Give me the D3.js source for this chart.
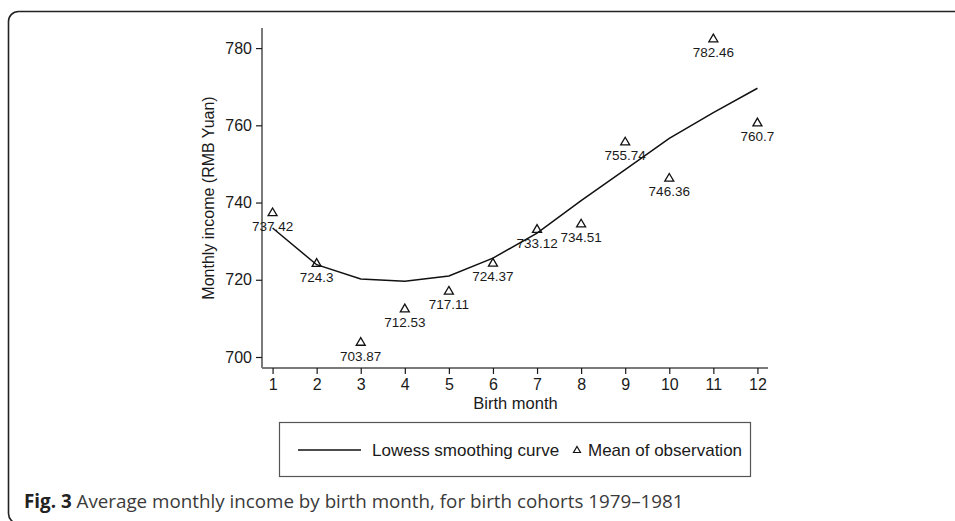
<!DOCTYPE html>
<html><head><meta charset="utf-8">
<script src="https://cdn.jsdelivr.net/npm/d3@7"></script>
<style>
html,body{margin:0;padding:0;background:#fff;}
svg{display:block;}
</style></head>
<body>
<svg id="chart" width="955" height="521"></svg>
<script>
const months = [1,2,3,4,5,6,7,8,9,10,11,12];
const observedMeans = [737.42,724.3,703.87,712.53,717.11,724.37,733.12,734.51,755.74,746.36,782.46,760.7];
const observedLabels = ["737.42","724.3","703.87","712.53","717.11","724.37","733.12","734.51","755.74","746.36","782.46","760.7"];
const lowessCurve = [733.4,723.9,720.2,719.6,721.0,725.6,732.1,740.5,748.5,756.6,763.3,769.6];
const yTicks = [700,720,740,760,780];
const xTicks = [1,2,3,4,5,6,7,8,9,10,11,12];

const svg = d3.select("#chart");
const font = "'Liberation Sans', Arial, Helvetica, sans-serif";
const textColor = "#1a1a1a";
const axisColor = "#7a7a7a";

// outer frame
svg.append("rect").attr("x",8.5).attr("y",11.5).attr("width",1000).attr("height",512)
  .attr("rx",10).attr("ry",10).attr("fill","none").attr("stroke","#222").attr("stroke-width",1.6);

const x = d3.scaleLinear().domain([0.76,12.24]).range([262,768]);
const y = d3.scaleLinear().domain([697.15,785.2]).range([368,28]);

// Y axis
const yAxis = svg.append("g").attr("transform","translate(262,0)")
  .call(d3.axisLeft(y).tickValues(yTicks).tickSize(6).tickPadding(4).tickFormat(d3.format("d")));
yAxis.select(".domain").attr("stroke",axisColor).attr("stroke-width",2).attr("d","M0,28V368");
yAxis.selectAll(".tick line").attr("stroke",textColor).attr("stroke-width",1.2);
yAxis.selectAll(".tick text").attr("font-family",font).attr("font-size",16).attr("fill",textColor);

// X axis
const xAxis = svg.append("g").attr("transform","translate(0,368)")
  .call(d3.axisBottom(x).tickValues(xTicks).tickSize(6).tickPadding(5).tickFormat(d3.format("d")));
xAxis.select(".domain").attr("stroke",axisColor).attr("stroke-width",2).attr("d","M262,0H768");
xAxis.selectAll(".tick line").attr("stroke",textColor).attr("stroke-width",1.2);
xAxis.selectAll(".tick text").attr("font-family",font).attr("font-size",16).attr("fill",textColor);

// axis titles
svg.append("text").attr("x",515.5).attr("y",409).attr("text-anchor","middle")
  .attr("font-family",font).attr("font-size",16.5).attr("fill",textColor).text("Birth month");
svg.append("text").attr("transform","translate(214,198) rotate(-90)").attr("text-anchor","middle")
  .attr("font-family",font).attr("font-size",16).attr("fill",textColor).text("Monthly income (RMB Yuan)");

// lowess line
const line = d3.line().x((d,i)=>x(months[i])).y(d=>y(d));
svg.append("path").datum(lowessCurve).attr("d",line).attr("fill","none")
  .attr("stroke","#111").attr("stroke-width",1.5);

// triangles
const tri = "M0,-4.5L4.5,3.2L-4.5,3.2Z";
svg.selectAll(".pt").data(observedMeans).enter().append("path")
  .attr("d",tri).attr("transform",(d,i)=>`translate(${x(months[i])},${y(d)})`)
  .attr("fill","none").attr("stroke","#111").attr("stroke-width",1.3);
svg.selectAll(".lbl").data(observedMeans).enter().append("text")
  .attr("x",(d,i)=>x(months[i])).attr("y",d=>y(d)+18.5).attr("text-anchor","middle")
  .attr("font-family",font).attr("font-size",13.5).attr("fill",textColor)
  .text((d,i)=>observedLabels[i]);

// legend
svg.append("rect").attr("x",279.5).attr("y",422.5).attr("width",471).attr("height",54)
  .attr("fill","none").attr("stroke","#555").attr("stroke-width",1.2);
svg.append("line").attr("x1",298).attr("x2",361).attr("y1",450).attr("y2",450)
  .attr("stroke","#111").attr("stroke-width",1.5);
svg.append("text").attr("x",372).attr("y",456).attr("font-family",font).attr("font-size",17)
  .attr("fill",textColor).text("Lowess smoothing curve");
svg.append("path").attr("d","M0,-3.5L3.5,2.5L-3.5,2.5Z").attr("transform","translate(577,450)")
  .attr("fill","none").attr("stroke","#111").attr("stroke-width",1.2);
svg.append("text").attr("x",588).attr("y",456).attr("font-family",font).attr("font-size",17)
  .attr("fill",textColor).text("Mean of observation");

// caption
const cap = svg.append("text").attr("x",24).attr("y",507.5).attr("font-family","'Open Sans', sans-serif")
  .attr("font-size",18.8).attr("fill","#3a3a3a");
cap.append("tspan").attr("font-weight","bold").attr("fill","#222").text("Fig. 3");
cap.append("tspan").text(" Average monthly income by birth month, for birth cohorts 1979\u20131981");
</script>
</body></html>
